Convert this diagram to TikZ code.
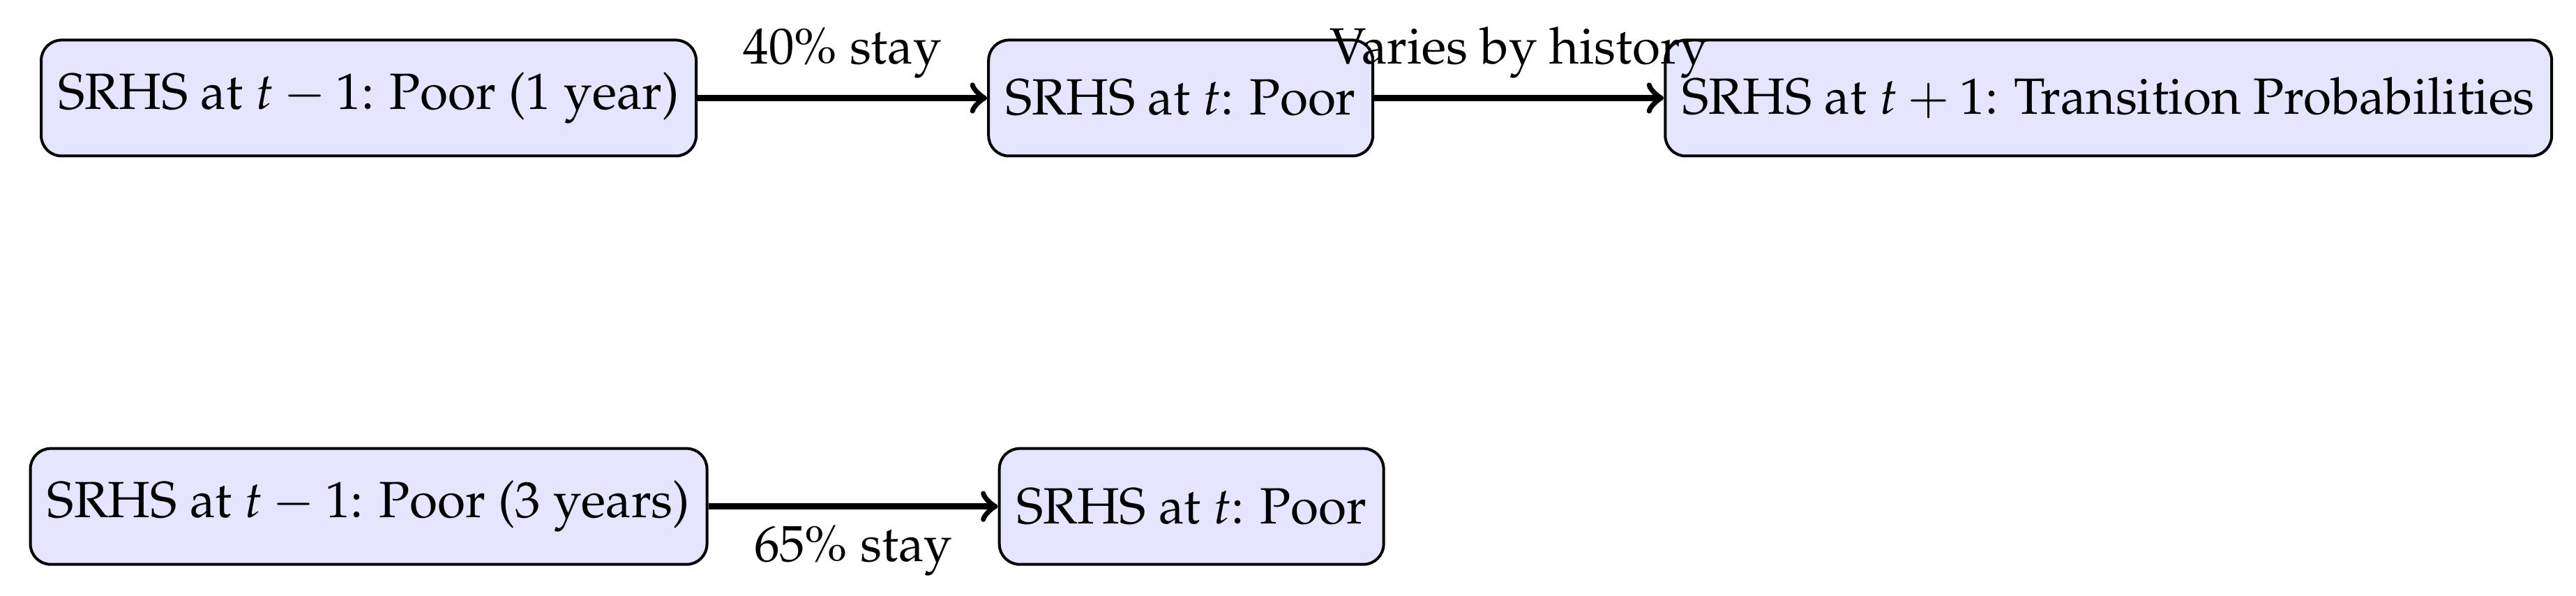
\documentclass[tikz,border=0pt]{standalone}
\usepackage[T1]{fontenc}
\usepackage{mathpazo}
\usetikzlibrary{positioning,calc}
\begin{document}
\begin{tikzpicture}[
  box/.style={draw, line width=0.55pt, fill=blue!10, rounded corners, minimum height=0.8cm, inner sep=0.3333em},
  link/.style={->, very thick},
  node distance=2cm
]
\node[box] (a) {SRHS at $t-1$: Poor (1 year)};
\node[box, right=of a] (b) {SRHS at $t$: Poor};
\node[box, right=of b] (c) {SRHS at $t+1$: Transition Probabilities};
\node[box, below=of a] (d) {SRHS at $t-1$: Poor (3 years)};
\node[box, right=of d] (e) {SRHS at $t$: Poor};
\draw[link] (a) -- node[above] {40\% stay} (b);
\draw[link] (b) -- node[above] {Varies by history} (c);
\draw[link] (d) -- node[below] {65\% stay} (e);
\coordinate (tl) at ($(d.west |- a.north) + (-5.7pt,7.6pt)$);
\coordinate (br) at ($(c.east |- d.south) + (4.5pt,-5.8pt)$);
\pgfresetboundingbox
\path[use as bounding box] (tl) rectangle (br);
\end{tikzpicture}
\end{document}
